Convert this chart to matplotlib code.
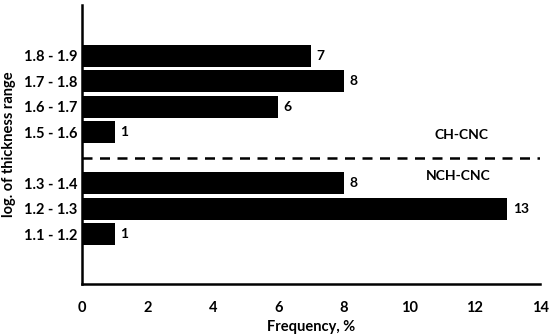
import matplotlib
matplotlib.use("Agg")
import matplotlib.pyplot as plt

categories = ["1.1 - 1.2", "1.2 - 1.3", "1.3 - 1.4", "1.5 - 1.6", "1.6 - 1.7", "1.7 - 1.8", "1.8 - 1.9"]
values = [1, 13, 8, 1, 6, 8, 7]
positions = [0, 1, 2, 4, 5, 6, 7]
xticks = [0, 2, 4, 6, 8, 10, 12, 14]

plt.rcParams['font.family'] = ['Lato', 'DejaVu Sans']
plt.rcParams['font.weight'] = 'bold'

fig = plt.figure(figsize=(5.5, 3.35), dpi=100)
ax = fig.add_axes([0.149, 0.152, 0.833, 0.833])

ax.barh(positions, values, height=0.87, color='black')
for p, v in zip(positions, values):
    ax.text(v + 0.17, p, str(v), va='center', ha='left', fontsize=10, fontweight='bold')

ax.axhline(3, color='black', linestyle=(0, (4, 3)), linewidth=1.8)
ax.text(11.6, 3.88, "CH-CNC", ha='center', va='center', fontsize=10, fontweight='bold')
ax.text(11.5, 2.3, "NCH-CNC", ha='center', va='center', fontsize=10, fontweight='bold')

ax.set_xlim(0, 14)
ax.set_ylim(-1.96, 9.0)
ax.set_xticks(xticks)
ax.set_xticklabels([str(t) for t in xticks], fontsize=10.5, fontweight='bold')
ax.set_yticks(positions)
ax.set_yticklabels(categories, fontsize=10.5, fontweight='bold')
ax.tick_params(axis='y', length=0, pad=3)
ax.tick_params(axis='x', length=0, pad=12)
for s in ['top', 'right']:
    ax.spines[s].set_visible(False)
for s in ['left', 'bottom']:
    ax.spines[s].set_linewidth(1.8)

ax.set_xlabel("Frequency, %", fontsize=10.5, fontweight='bold', labelpad=4)
ax.set_ylabel("log. of thickness range", fontsize=10.5, fontweight='bold', labelpad=6)

fig.savefig("out.png", dpi=100)
